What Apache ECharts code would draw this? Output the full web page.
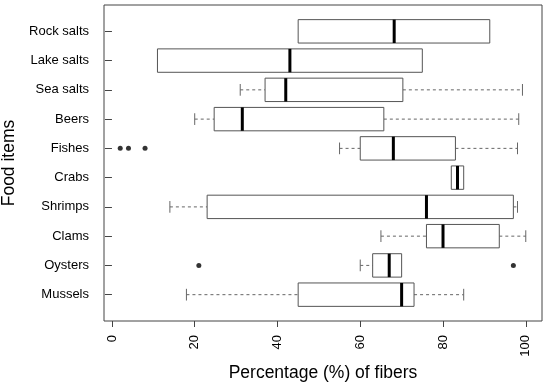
<!DOCTYPE html>
<html>
<head>
<meta charset="utf-8">
<script src="https://cdn.jsdelivr.net/npm/echarts@6/dist/echarts.min.js"></script>
<style>html,body{margin:0;padding:0;background:#fff}#c{width:550px;height:382px}</style>
</head>
<body>
<div id="c"></div>
<script>
// Categories, top to bottom
const categories = ['Rock salts','Lake salts','Sea salts','Beers','Fishes','Crabs','Shrimps','Clams','Oysters','Mussels'];
// Box statistics (percentage of fibers)
const whiskerLow  = [45,   11, 31,   20,   55, 82,   14, 65,   60, 18];
const q1          = [45,   11, 37,   24.7, 60, 82,   23, 76,   63, 45];
const median      = [68.2, 43, 42,   31.5, 68, 83.5, 76, 80,   67, 70];
const q3          = [91.3, 75, 70.3, 65.7, 83, 85,   97, 93.6, 70, 73];
const whiskerHigh = [91.3, 75, 99.2, 98.3, 98, 85,   98, 100,  70, 85];
// Outliers: [category, value]
const outlierCats = ['Fishes','Fishes','Fishes','Oysters','Oysters'];
const outlierVals = [2, 4, 8, 21, 97];
const xTicks = [0, 20, 40, 60, 80, 100];

const boxData = categories.map((c, i) => [i + 1, whiskerLow[i], q1[i], median[i], q3[i], whiskerHigh[i]]);
const outData = outlierCats.map((c, i) => [outlierVals[i], categories.indexOf(c) + 1]);

const FONT = 'Liberation Sans, Arial, sans-serif';
const chart = echarts.init(document.getElementById('c'), null, {renderer: 'canvas'});
chart.setOption({
  animation: false,
  grid: {left: 104, top: 5, width: 438, height: 316, show: true, borderColor: '#444', borderWidth: 1,
    backgroundColor: '#fff', containLabel: false, outerBoundsMode: 'none'},
  xAxis: {
    type: 'value', min: -1.92, max: 103.92,
    name: 'Percentage (%) of fibers', nameLocation: 'middle', nameGap: 40,
    nameTextStyle: {fontFamily: FONT, fontSize: 17.5, color: '#000'},
    axisLine: {show: false},
    axisTick: {show: true, length: 6, customValues: xTicks, lineStyle: {color: '#444'}},
    axisLabel: {customValues: xTicks, rotate: 90, margin: 14, fontFamily: FONT, fontSize: 13, color: '#000'},
    splitLine: {show: false}
  },
  yAxis: {
    type: 'value', min: 0.1, max: 10.9, inverse: true,
    name: 'Food items', nameLocation: 'middle', nameGap: 85,
    nameTextStyle: {fontFamily: FONT, fontSize: 17.5, color: '#000'},
    axisLine: {show: false},
    axisTick: {show: true, length: 7, customValues: [1,2,3,4,5,6,7,8,9,10], lineStyle: {color: '#444'}},
    axisLabel: {customValues: [1,2,3,4,5,6,7,8,9,10], margin: 15, fontFamily: FONT, fontSize: 13, color: '#000',
      formatter: v => categories[Math.round(v) - 1] || ''},
    splitLine: {show: false}
  },
  series: [
    {
      type: 'custom',
      data: boxData,
      encode: {x: [1, 2, 3, 4, 5], y: 0},
      renderItem: function (params, api) {
        const y = api.value(0);
        const lo = api.value(1), a = api.value(2), m = api.value(3), b = api.value(4), hi = api.value(5);
        const h = api.size([0, 0.8])[1];
        const cap = api.size([0, 0.4])[1];
        const cy = api.coord([0, y])[1];
        const X = v => api.coord([v, y])[0];
        const kids = [];
        const dash = {stroke: '#666', lineWidth: 1, lineDash: [3, 3]};
        const solid = {stroke: '#666', lineWidth: 1};
        if (lo < a) {
          kids.push({type: 'line', shape: {x1: X(lo), y1: cy, x2: X(a), y2: cy}, style: dash});
          kids.push({type: 'line', shape: {x1: X(lo), y1: cy - cap / 2, x2: X(lo), y2: cy + cap / 2}, style: solid});
        }
        if (hi > b) {
          kids.push({type: 'line', shape: {x1: X(b), y1: cy, x2: X(hi), y2: cy}, style: dash});
          kids.push({type: 'line', shape: {x1: X(hi), y1: cy - cap / 2, x2: X(hi), y2: cy + cap / 2}, style: solid});
        }
        kids.push({type: 'rect', shape: {x: X(a), y: cy - h / 2, width: X(b) - X(a), height: h},
          style: {fill: '#fff', stroke: '#555', lineWidth: 1}});
        kids.push({type: 'line', shape: {x1: X(m), y1: cy - h / 2, x2: X(m), y2: cy + h / 2},
          style: {stroke: '#000', lineWidth: 3}});
        return {type: 'group', children: kids};
      }
    },
    {
      type: 'scatter',
      data: outData,
      symbol: 'circle',
      symbolSize: 5,
      itemStyle: {color: '#000'}
    }
  ]
});
</script>
</body>
</html>
